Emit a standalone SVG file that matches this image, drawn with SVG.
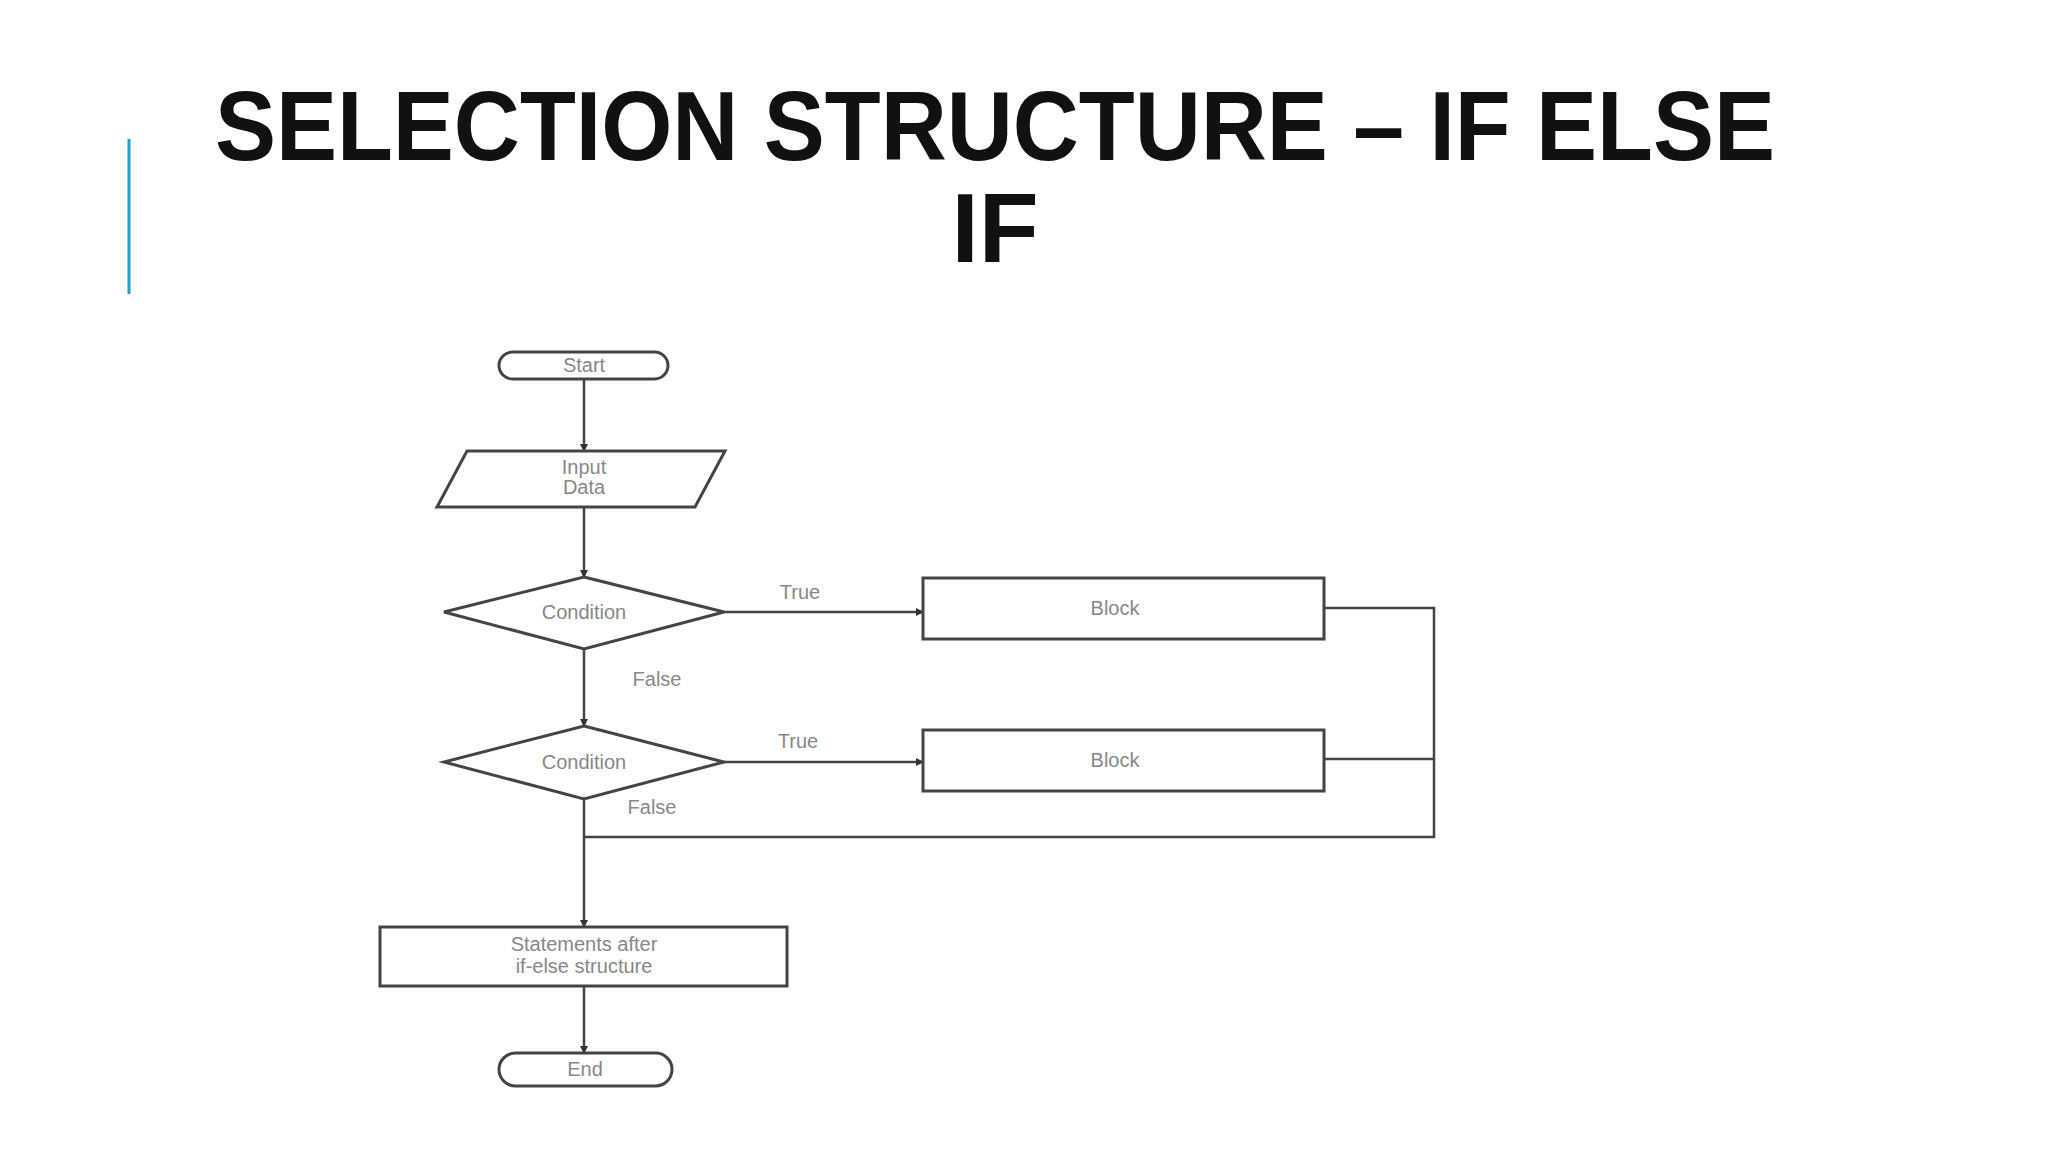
<svg xmlns="http://www.w3.org/2000/svg" width="2048" height="1152" viewBox="0 0 2048 1152">
<defs>
<marker id="ah" markerWidth="8" markerHeight="8" refX="7" refY="4" orient="auto" markerUnits="userSpaceOnUse"><path d="M0,0 L8,4 L0,8 Z" fill="#333"/></marker>
<style>
.s{fill:#fff;stroke:#444;stroke-width:3}
.c{fill:none;stroke:#444;stroke-width:2.5}
.t{font-family:"Liberation Sans",Arial,sans-serif;font-size:20px;fill:#888;text-anchor:middle}
.ttl{font-family:"Liberation Sans Narrow","Liberation Sans",Arial,sans-serif;font-weight:bold;font-size:98px;fill:#111;text-anchor:middle}
</style>
</defs>
<rect width="2048" height="1152" fill="#fff"/>
<line x1="129" y1="139" x2="129" y2="294" stroke="#1fa3d0" stroke-width="3"/>
<text class="ttl" x="995" y="160" textLength="1560" lengthAdjust="spacingAndGlyphs">SELECTION STRUCTURE – IF ELSE</text>
<text class="ttl" x="995" y="262">IF</text>
<g transform="translate(-5,-4)">
<g id="connectors">
<line class="c" x1="589" y1="383" x2="589" y2="455" marker-end="url(#ah)"/>
<line class="c" x1="589" y1="511" x2="589" y2="581" marker-end="url(#ah)"/>
<line class="c" x1="589" y1="653" x2="589" y2="730" marker-end="url(#ah)"/>
<line class="c" x1="729" y1="616" x2="928" y2="616" marker-end="url(#ah)"/>
<line class="c" x1="729" y1="766" x2="928" y2="766" marker-end="url(#ah)"/>
<polyline class="c" points="1329,612 1439,612 1439,841 589,841"/>
<line class="c" x1="1329" y1="763" x2="1439" y2="763"/>
<line class="c" x1="589" y1="803" x2="589" y2="931" marker-end="url(#ah)"/>
<line class="c" x1="589" y1="990" x2="589" y2="1057" marker-end="url(#ah)"/>
<text class="t" x="805" y="603">True</text>
<text class="t" x="662" y="690">False</text>
<text class="t" x="803" y="752">True</text>
<text class="t" x="657" y="818">False</text>
</g>
<g id="start"><rect class="s" x="504" y="356" width="169" height="27" rx="13.5"/><text class="t" x="589" y="376">Start</text></g>
<g id="input"><polygon class="s" points="472,455 730,455 700,511 442,511"/><text class="t" x="589" y="478">Input</text><text class="t" x="589" y="498">Data</text></g>
<g id="cond1"><polygon class="s" points="589,581 729,616 589,653 449,616"/><text class="t" x="589" y="623">Condition</text></g>
<g id="block1"><rect class="s" x="928" y="582" width="401" height="61"/><text class="t" x="1120" y="619">Block</text></g>
<g id="cond2"><polygon class="s" points="589,730 729,766 589,803 449,766"/><text class="t" x="589" y="773">Condition</text></g>
<g id="block2"><rect class="s" x="928" y="734" width="401" height="61"/><text class="t" x="1120" y="771">Block</text></g>
<g id="stmt"><rect class="s" x="385" y="931" width="407" height="59"/><text class="t" x="589" y="955">Statements after</text><text class="t" x="589" y="977">if-else structure</text></g>
<g id="end"><rect class="s" x="504" y="1057" width="173" height="33" rx="16.5"/><text class="t" x="590" y="1080">End</text></g>
</g>
</svg>
